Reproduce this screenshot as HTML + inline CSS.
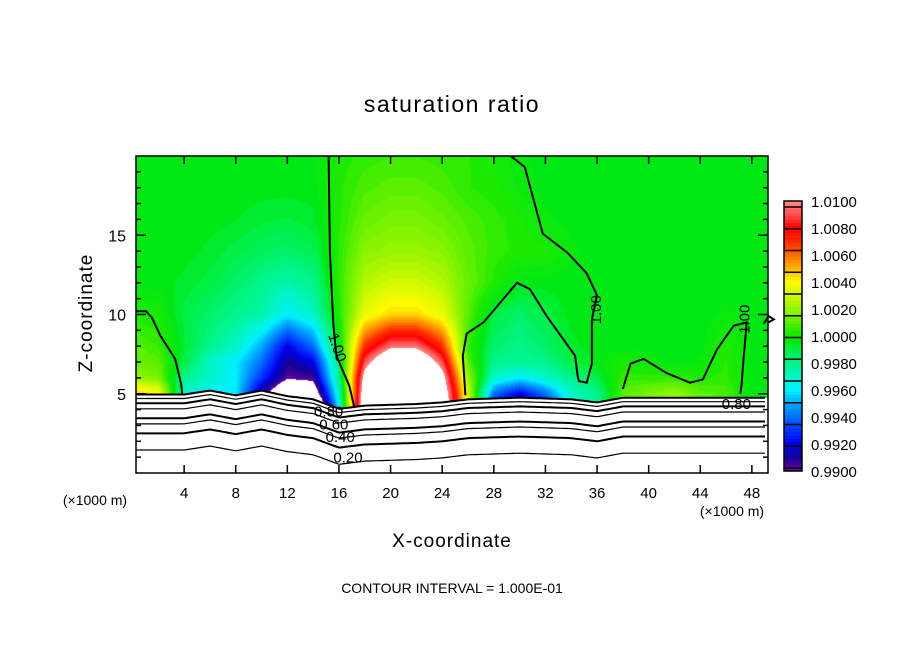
<!DOCTYPE html>
<html><head><meta charset="utf-8"><style>
html,body{margin:0;padding:0;background:#fff;}
#wrap{position:relative;width:904px;height:654px;overflow:hidden;font-family:"Liberation Sans",sans-serif;}
canvas{position:absolute;left:136px;top:156px;}
svg{position:absolute;left:0;top:0;}
</style></head><body>
<div id="wrap">
<canvas id="field" width="632" height="317"></canvas>
<svg id="svg" width="904" height="654">
<text x="452" y="112" text-anchor="middle" font-size="23" letter-spacing="1.5">saturation ratio</text>
<text x="452" y="547" text-anchor="middle" font-size="19" letter-spacing="1">X-coordinate</text>
<text transform="translate(92,313) rotate(-90)" text-anchor="middle" font-size="19" letter-spacing="1">Z-coordinate</text>
<text x="95" y="505" text-anchor="middle" font-size="14">(×1000 m)</text>
<text x="732" y="516" text-anchor="middle" font-size="14">(×1000 m)</text>
<text x="452" y="593" text-anchor="middle" font-size="14">CONTOUR INTERVAL = 1.000E-01</text>
<g id="g"></g>
</svg>
</div>
<script>
const xs=[0,2,4,6,8,10,12,14,16,18,20,22,24,26,28,30,32,34,36,38,40,42,44,46,48,50];
const zs=[4,5,6,7,8,10,12,14,16,18,20];
const r4=[1.006,1.005,0.996,0.995,0.995,0.986,0.982,0.984,0.996,1.013,1.02,1.02,1.013,1.003,0.992,0.990,0.992,0.997,0.998,1.001,1.002,1.003,1.001,1.0005,0.9995,0.9995];
const r5=[1.005,1.004,0.997,0.996,0.996,0.991,0.987,0.988,0.997,1.012,1.02,1.02,1.012,1.003,0.994,0.992,0.994,0.997,0.998,1.001,1.0015,1.002,1.001,1.0008,0.9995,0.9995];
const r6=[1.002,1.0015,0.998,0.997,0.996,0.993,0.9902,0.9905,0.998,1.011,1.016,1.016,1.011,1.002,0.997,0.996,0.997,0.998,0.999,1.0005,1.0005,1.0005,1.0003,1.0005,0.9995,0.9995];
const r7=[1.0012,1.001,0.999,0.997,0.996,0.994,0.991,0.992,0.9985,1.009,1.013,1.013,1.009,1.001,0.998,0.998,0.998,0.999,0.9995,1.0002,0.9998,0.9995,0.9997,1.0004,0.9995,0.9995];
const r8=[1.001,1.0006,0.9992,0.998,0.997,0.995,0.992,0.994,0.9995,1.007,1.0095,1.0095,1.007,1.0005,0.9985,0.998,0.9985,0.9993,0.9995,0.9995,0.9995,0.9995,0.9995,1.0003,0.9995,0.9995];
const r10=[1.0002,1.0001,0.999,0.9985,0.998,0.9975,0.996,0.997,1.0002,1.0035,1.0045,1.0045,1.0035,1.001,0.999,0.9985,0.999,0.9995,0.9995,0.9995,0.9995,0.9995,0.9995,0.9997,0.9995,0.9995];
const r12=[0.9995,0.9995,0.9993,0.999,0.9985,0.998,0.9975,0.998,1.0005,1.0025,1.003,1.003,1.0025,1.0012,1.0003,0.9995,0.9995,0.9995,0.9995,0.9995,0.9995,0.9995,0.9995,0.9995,0.9995,0.9995];
const r14=[0.9995,0.9995,0.9995,0.9993,0.999,0.9987,0.9985,0.9988,1.0004,1.0018,1.002,1.002,1.0018,1.001,1.0005,1.0003,1.0002,0.9997,0.9995,0.9995,0.9995,0.9995,0.9995,0.9995,0.9995,0.9995];
const r16=[0.9995,0.9995,0.9995,0.9995,0.9994,0.9992,0.9991,0.9993,1.0003,1.0012,1.0015,1.0015,1.0012,1.0008,1.0005,1.0002,0.9997,0.9995,0.9995,0.9995,0.9995,0.9995,0.9995,0.9995,0.9995,0.9995];
const r18=[0.9995,0.9995,0.9995,0.9995,0.9995,0.9995,0.9995,0.9995,1.0003,1.0008,1.001,1.001,1.0008,1.0004,1.0002,0.9998,0.9995,0.9995,0.9995,0.9995,0.9995,0.9995,0.9995,0.9995,0.9995,0.9995];
const r20=[0.9995,0.9995,0.9995,0.9995,0.9995,0.9995,0.9995,0.9996,1.0002,1.0005,1.0006,1.0006,1.0005,1.0004,1.0001,0.9997,0.9995,0.9995,0.9995,0.9995,0.9995,0.9995,0.9995,0.9995,0.9995,0.9995];
const rows=[r4,r5,r6,r7,r8,r10,r12,r14,r16,r18,r20];
const lineBase=[4.95,4.7,4.4,4.05,3.45,3.1,2.5,1.45];
const offX=[0,4,6,8,10,12,14,16,18,22,24,26,30,34,36,38,42,46,50];
const offZ=[0,0,0.25,-0.05,0.25,-0.1,-0.3,-0.9,-0.7,-0.6,-0.5,-0.3,-0.2,-0.3,-0.5,-0.2,-0.2,-0.2,-0.2];
const c1x=[0.28,1.05,1.5,2.14,3.3,3.77,3.85];
const c1z=[10.2,10.2,9.8,8.7,7.2,5.6,5.0];
const c2x=[15.2,15.3,15.55,15.8,16.8,17.2];
const c2z=[20,14,9.5,7.4,5.5,4.1];
const c3x=[29.3,30.4,30.8,31.8,33.7,35.2,36.0,35.6,35.6,35.2,34.6,34.5,34.3,32.1,30.8,29.8,27.2,25.9,25.6,25.8];
const c3z=[20,19.3,18.1,15.1,13.9,12.6,11.2,9.7,6.9,5.7,5.8,6.1,7.4,9.9,11.6,12.0,9.5,8.8,7.4,4.9];
const c4x=[38.0,38.6,39.6,41.4,43.2,44.2,45.3,46.6,47.6,47.3,47.2,47.1];
const c4z=[5.3,6.9,7.2,6.3,5.7,5.9,7.8,9.3,9.5,6.6,5.5,5.0];
const c5x=[48.9,49.3,49.7,49.3];
const c5z=[9.4,9.9,9.7,9.5];
const labelText=["1.00","1.00","1.00","0.80","0.60","0.40","0.20","0.80"];
const labelX=[15.8,36.0,47.5,15.2,15.6,16.1,16.7,46.8];
const labelZ=[7.9,10.3,9.7,3.8,3.0,2.2,0.9,4.3];
const labelRot=[72,-90,-90,0,0,0,0,0];
const xTicks=[4,8,12,16,20,24,28,32,36,40,44,48];
const yTicks=[5,10,15];
const cbLabels=["1.0100","1.0080","1.0060","1.0040","1.0020","1.0000","0.9980","0.9960","0.9940","0.9920","0.9900"];
const cmapV=[0.990,0.991,0.992,0.993,0.994,0.995,0.996,0.997,0.998,0.999,0.9995,1.0003,1.001,1.002,1.003,1.004,1.005,1.006,1.007,1.008,1.009,1.010];
const cmapC=[[110,0,160],[20,0,150],[0,0,230],[0,50,255],[0,110,255],[0,170,255],[0,240,255],[0,245,200],[0,245,140],[0,240,70],[0,232,20],[30,235,0],[90,240,0],[150,245,0],[210,250,0],[255,250,0],[255,180,0],[255,110,0],[255,40,0],[255,0,0],[255,80,80],[255,140,140]];

const X0=136,X1=768,Y0=156,Y1=473;
const xMin=0.27,xMax=49.25,zMin=0,zMax=20;
const sx=x=>X0+(x-xMin)/(xMax-xMin)*(X1-X0);
const sz=z=>Y1-(z-zMin)/(zMax-zMin)*(Y1-Y0);
function interp1(ax,ay,x){if(x<=ax[0])return ay[0];for(let i=1;i<ax.length;i++){if(x<=ax[i]){const t=(x-ax[i-1])/(ax[i]-ax[i-1]);return ay[i-1]+t*(ay[i]-ay[i-1]);}}return ay[ay.length-1];}
function field(x,z){
 let i=Math.min(xs.length-2,Math.max(0,Math.floor(x/2)));let tx=Math.max(0,Math.min(1,(x-xs[i])/(xs[i+1]-xs[i])));
 let j=0;while(j<zs.length-2&&z>zs[j+1])j++;let tz=Math.max(0,Math.min(1,(z-zs[j])/(zs[j+1]-zs[j])));
 const a=rows[j][i]*(1-tx)+rows[j][i+1]*tx,b=rows[j+1][i]*(1-tx)+rows[j+1][i+1]*tx;return a*(1-tz)+b*tz;}
function color(v){
 if(v<0.990||v>1.010)return [255,255,255];
 v=Math.round(v/0.00025)*0.00025;
 for(let k=1;k<cmapV.length;k++){if(v<=cmapV[k]+1e-9){const t=Math.max(0,Math.min(1,(v-cmapV[k-1])/(cmapV[k]-cmapV[k-1])));const a=cmapC[k-1],b=cmapC[k];return [a[0]+(b[0]-a[0])*t,a[1]+(b[1]-a[1])*t,a[2]+(b[2]-a[2])*t];}}
 return cmapC[cmapC.length-1];}
const cv=document.getElementById('field');const ctx=cv.getContext('2d');
const W=cv.width,H=cv.height;const img=ctx.createImageData(W,H);
for(let py=0;py<H;py++){for(let px=0;px<W;px++){
 const x=xMin+(px+0.5)/W*(xMax-xMin);const z=zMax-(py+0.5)/H*(zMax-zMin);
 const surf=lineBase[0]+interp1(offX,offZ,x);
 const c=z<surf?[255,255,255]:color(field(x,z));
 const o=(py*W+px)*4;img.data[o]=c[0];img.data[o+1]=c[1];img.data[o+2]=c[2];img.data[o+3]=255;}}
ctx.putImageData(img,0,0);

const NS="http://www.w3.org/2000/svg";const g=document.getElementById('g');
function mk(tag,attrs){const e=document.createElementNS(NS,tag);for(const k in attrs)e.setAttribute(k,attrs[k]);g.appendChild(e);return e;}
for(let L=0;L<lineBase.length;L++){let pts=[];for(let x=xMin;x<=xMax+0.01;x+=0.25){pts.push(sx(x).toFixed(1)+','+sz(lineBase[L]+interp1(offX,offZ,x)).toFixed(1));}
 const p=mk('polyline',{points:pts.join(' '),fill:'none',stroke:'#000','stroke-width':L%2===0?2:1.2});
 
 }
[[c1x,c1z],[c2x,c2z],[c3x,c3z],[c4x,c4z],[c5x,c5z]].forEach(([ax,az])=>{
 const p=mk('polyline',{points:ax.map((x,i)=>sx(x).toFixed(1)+','+sz(az[i]).toFixed(1)).join(' '),fill:'none',stroke:'#000','stroke-width':2});
 
 });
labelText.forEach((t,i)=>{const x=sx(labelX[i]),y=sz(labelZ[i]);
 const e=mk('text',{x:x,y:y,'font-size':15,'text-anchor':'middle','dominant-baseline':'middle',transform:`rotate(${labelRot[i]} ${x} ${y})`});
 e.textContent=t;
 
 });
const fr=mk('rect',{x:X0,y:Y0,width:X1-X0,height:Y1-Y0,fill:'none',stroke:'#000','stroke-width':1.5});


xTicks.forEach(v=>{const x=sx(v);
 const t1=mk('line',{x1:x,x2:x,y1:Y1,y2:Y1-8,stroke:'#000','stroke-width':1.5});
 const t2=mk('line',{x1:x,x2:x,y1:Y0,y2:Y0+8,stroke:'#000','stroke-width':1.5});
 const l=mk('text',{x:x,y:Y1+25,'font-size':15,'text-anchor':'middle'});l.textContent=v;
 
 });
for(let v=1;v<=19;v++){const y=sz(v);const len=v%5===0?10:5;
 const t1=mk('line',{x1:X0,x2:X0+len,y1:y,y2:y,stroke:'#000','stroke-width':1.5});
 const t2=mk('line',{x1:X1,x2:X1-len,y1:y,y2:y,stroke:'#000','stroke-width':1.5});}
yTicks.forEach(v=>{const l=mk('text',{x:126,y:sz(v)+6,'font-size':16,'text-anchor':'end'});l.textContent=v;
 
 });
const CB0=201,CB1=471,CX=784,CW=18;
for(let py=CB0;py<CB1;py++){const v=1.010-(py-CB0+0.5)/(CB1-CB0)*0.020;const c=color(v);
 const r=mk('rect',{x:CX,y:py,width:CW,height:1.2,fill:`rgb(${c.map(Math.round).join(',')})`});
 
 }
for(let k=0;k<13;k++){const y=207+k*21.75;const s=mk('line',{x1:CX,x2:CX+CW,y1:y,y2:y,stroke:'#000','stroke-width':1.5});
 
 }
const cbf=mk('rect',{x:CX,y:CB0,width:CW,height:CB1-CB0,fill:'none',stroke:'#000','stroke-width':1.5});


cbLabels.forEach((t,i)=>{const l=mk('text',{x:811,y:CB0+i*(CB1-CB0)/10+6,'font-size':15});l.textContent=t;
 
 });
</script>
</body></html>
